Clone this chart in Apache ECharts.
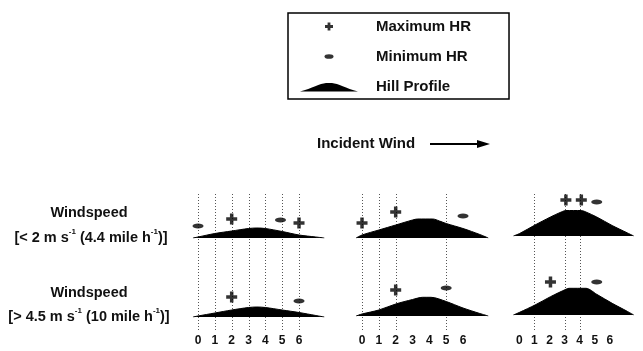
<!DOCTYPE html>
<html><head><meta charset="utf-8">
<script src="https://cdn.jsdelivr.net/npm/echarts@6/dist/echarts.min.js"></script>
<style>html,body{margin:0;padding:0;background:#fff}#c{width:643px;height:351px}</style>
</head><body><div id="c"></div>
<script>
// ---------- data ----------
const tickValues = [0, 1, 2, 3, 4, 5, 6];
const dottedColumnA = [0, 1, 2, 3, 4, 5, 6];
const dottedColumnB = [0, 1, 2, 5];
const dottedColumnC = [1, 3, 4];
const rowTitles = ['Windspeed', 'Windspeed'];
const rowRanges = ['[< 2 m s{sup|-1} (4.4 mile h{sup|-1})]', '[> 4.5 m s{sup|-1} (10 mile h{sup|-1})]'];
const legendNames = ['Maximum HR', 'Minimum HR', 'Hill Profile'];
const windLabel = 'Incident Wind';

// hill profiles: [position, height]
const hillCalmA = [[-0.3,0],[0,1],[1,4.5],[2,7],[3,9.5],[3.5,10],[4,9.5],[5,6.5],[6,3],[7,1],[7.5,0]];
const hillCalmB = [[-0.35,0],[0,3],[1,8],[2,13],[3,18],[3.3,19],[4.2,19],[4.6,17],[5,14.5],[6,9.5],[7,3.5],[7.5,0]];
const hillCalmC = [[-0.4,0],[0,2.5],[1,11],[2,19],[2.7,24],[3,25.5],[4,25.5],[4.3,24],[5,19],[6,10.5],[7,3],[7.4,0]];
const hillWindyA = [[-0.3,0],[0,1],[1,4],[2,7],[3,9.5],[3.5,10],[4,9.5],[5,7],[6,4.5],[7,1.5],[7.5,0]];
const hillWindyB = [[-0.35,0],[0,2],[1,6],[2,12],[3,16.5],[3.6,18.7],[4.1,18.7],[5,14.5],[6,8],[7,2.5],[7.5,0]];
const hillWindyC = [[-0.4,0],[0,2.7],[1,10],[2,18.3],[3,25.7],[3.2,26.7],[4.3,26.7],[5,20.7],[6,11.7],[7,3.5],[7.4,0]];

// maximum / minimum HR markers: [position, height]
const maxCalmA = [[2,19],[6,15]];
const minCalmA = [[0,12],[4.9,18]];
const maxCalmB = [[0,15],[2,26]];
const minCalmB = [[6,22]];
const maxCalmC = [[3,36],[4,36]];
const minCalmC = [[5,34]];
const maxWindyA = [[2,20]];
const minWindyA = [[6,16]];
const maxWindyB = [[2,26]];
const minWindyB = [[5,28]];
const maxWindyC = [[2,33]];
const minWindyC = [[5,33]];

// ---------- build ----------
const FONT = '"Liberation Sans", Arial, sans-serif';
const PLUS = 'path://M3.75,0H7.25V3.75H11V7.25H7.25V11H3.75V7.25H0V3.75H3.75Z';
const MINUS = 'path://M0,2.5A5.5,2.5 0 1 1 11,2.5A5.5,2.5 0 1 1 0,2.5Z';
const LEG_PLUS = 'path://M0,0M71,10M27.6,1H30.4V3.6H33V6.4H30.4V9H27.6V6.4H25V3.6H27.6Z';
const LEG_MINUS = 'path://M0,0M71,10M24.5,5A4.5,2.3 0 1 1 33.5,5A4.5,2.3 0 1 1 24.5,5Z';
const LEG_HILL = 'path://M0,0M71,10M0,10C12,7 20,2 26,1.5L32,1.5C38,2 46,7 58,10Z';

const panels = [
  {hill: hillCalmA, max: maxCalmA, min: minCalmA},
  {hill: hillCalmB, max: maxCalmB, min: minCalmB},
  {hill: hillCalmC, max: maxCalmC, min: minCalmC},
  {hill: hillWindyA, max: maxWindyA, min: minWindyA},
  {hill: hillWindyB, max: maxWindyB, min: minWindyB},
  {hill: hillWindyC, max: maxWindyC, min: minWindyC}
];
const PX = 16.83;
const W = 9 * PX;
const colLeft = [181.2, 345.2, 504.2];
const panelTop = [198, 198, 196, 277, 276, 275];
const colDots = [dottedColumnA, dottedColumnB, dottedColumnC];

const grid = [], xAxis = [], yAxis = [], series = [];
panels.forEach((p, i) => {
  grid.push({left: colLeft[i % 3], top: panelTop[i], width: W, height: 40});
  xAxis.push({type: 'value', gridIndex: i, min: -1, max: 8, interval: 1, show: false});
  yAxis.push({type: 'value', gridIndex: i, min: 0, max: 40, show: false});
  series.push({name: legendNames[2], type: 'line', xAxisIndex: i, yAxisIndex: i, data: p.hill,
    smooth: 0.3, symbol: 'none', silent: true, z: 3,
    lineStyle: {color: '#000', width: 1}, itemStyle: {color: '#000'},
    areaStyle: {color: '#000', opacity: 1}});
  series.push({name: legendNames[0], type: 'scatter', xAxisIndex: i, yAxisIndex: i, data: p.max,
    symbol: PLUS, symbolSize: 11, itemStyle: {color: '#000'}, z: 4, silent: true});
  series.push({name: legendNames[1], type: 'scatter', xAxisIndex: i, yAxisIndex: i, data: p.min,
    symbol: MINUS, symbolSize: [11, 5], itemStyle: {color: '#000'}, z: 4, silent: true});
});
colLeft.forEach((l, j) => {
  const gi = 6 + j;
  grid.push({left: l, top: 192, width: W, height: 138});
  xAxis.push({type: 'value', gridIndex: gi, min: -1, max: 8, interval: 1,
    axisLine: {show: false}, axisTick: {show: false}, splitLine: {show: false},
    axisLabel: {margin: 5, fontSize: 12, fontWeight: 'bold', color: '#111', fontFamily: FONT,
      formatter: v => tickValues.includes(v) ? String(v) : ''}});
  yAxis.push({type: 'value', gridIndex: gi, min: 0, max: 1, show: false});
  series.push({type: 'custom', name: 'guides', xAxisIndex: gi, yAxisIndex: gi, z: 1, silent: true,
    data: colDots[j].map(v => [v, 0]),
    encode: {x: 0, y: 1},
    renderItem: (params, api) => {
      const x = api.value(0);
      const a = api.coord([x, 0]);
      const b = api.coord([x, 1]);
      return {type: 'line', shape: {x1: Math.round(a[0]) + 0.5, y1: a[1], x2: Math.round(b[0]) + 0.5, y2: b[1]},
        style: {stroke: '#555', lineWidth: 1, lineDash: [1, 2]}};
    }});
});

const supStyle = {fontSize: 8, fontWeight: 'bold', fontFamily: FONT, fill: '#111', padding: [0, 0, 13, 0]};
const graphic = [
  {type: 'text', x: 89, y: 213, style: {text: rowTitles[0], font: 'bold 14.5px ' + FONT, fill: '#111', align: 'center', verticalAlign: 'middle'}},
  {type: 'text', x: 91, y: 238, style: {text: rowRanges[0], font: 'bold 14.5px ' + FONT, fill: '#111', align: 'center', verticalAlign: 'middle', rich: {sup: supStyle}}},
  {type: 'text', x: 89, y: 293, style: {text: rowTitles[1], font: 'bold 14.5px ' + FONT, fill: '#111', align: 'center', verticalAlign: 'middle'}},
  {type: 'text', x: 89, y: 317, style: {text: rowRanges[1], font: 'bold 14.5px ' + FONT, fill: '#111', align: 'center', verticalAlign: 'middle', rich: {sup: supStyle}}},
  {type: 'text', x: 317, y: 144, style: {text: windLabel, font: 'bold 15px ' + FONT, fill: '#111', align: 'left', verticalAlign: 'middle'}},
  {type: 'line', shape: {x1: 430, y1: 144, x2: 480, y2: 144}, style: {stroke: '#000', lineWidth: 2}},
  {type: 'polygon', shape: {points: [[477, 140], [490, 144], [477, 148]]}, style: {fill: '#000'}}
];

const chart = echarts.init(document.getElementById('c'), null, {renderer: 'canvas'});
chart.setOption({
  animation: false,
  backgroundColor: '#fff',
  legend: {
    orient: 'vertical', left: 288, top: 13, padding: [6, 38, 5, 12],
    itemWidth: 71, itemHeight: 10, itemGap: 15,
    borderColor: '#000', borderWidth: 1.5, selectedMode: false,
    textStyle: {fontSize: 15, fontWeight: 'bold', fontFamily: FONT, color: '#111'},
    data: [
      {name: legendNames[0], icon: LEG_PLUS},
      {name: legendNames[1], icon: LEG_MINUS},
      {name: legendNames[2], icon: LEG_HILL}
    ]
  },
  grid, xAxis, yAxis, series, graphic
});
</script>
</body></html>
